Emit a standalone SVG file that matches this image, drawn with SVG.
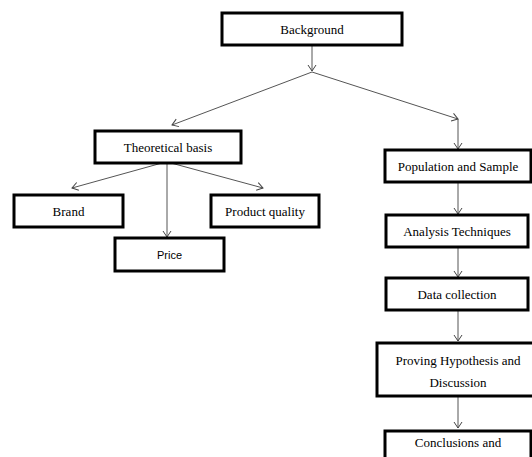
<svg xmlns="http://www.w3.org/2000/svg" width="532" height="457" viewBox="0 0 532 457">
<style>
.box{fill:#fff;stroke:#000;stroke-width:3}
.t{font-family:"Liberation Serif","Times New Roman",serif;font-size:13px;fill:#000;text-anchor:middle;dominant-baseline:central}
.s{font-family:"Liberation Sans",Arial,sans-serif;font-size:11px;fill:#000;text-anchor:middle;dominant-baseline:central}
.c{stroke:#555;stroke-width:1;fill:none}
</style>
<defs>
<marker id="a" markerUnits="userSpaceOnUse" markerWidth="12" markerHeight="12" viewBox="-8 -6 10 12" refX="0" refY="0" orient="auto">
<path d="M-6,-4 L0,0 L-6,4" fill="none" stroke="#444" stroke-width="1"/>
</marker>
</defs>
<rect width="532" height="457" fill="#fff"/>
<g id="connectors" class="c">
<line x1="312" y1="45" x2="312" y2="71" marker-end="url(#a)"/>
<line x1="312" y1="72" x2="172" y2="125" marker-end="url(#a)"/>
<line x1="312" y1="72" x2="458" y2="119" marker-end="url(#a)"/>
<line x1="458" y1="119" x2="458" y2="149" marker-end="url(#a)"/>
<line x1="162" y1="163" x2="72" y2="188" marker-end="url(#a)"/>
<line x1="167" y1="163" x2="167" y2="237" marker-end="url(#a)"/>
<line x1="171" y1="163" x2="263" y2="188" marker-end="url(#a)"/>
<line x1="458" y1="182" x2="458" y2="214" marker-end="url(#a)"/>
<line x1="458" y1="247" x2="458" y2="277" marker-end="url(#a)"/>
<line x1="458" y1="310" x2="458" y2="341" marker-end="url(#a)"/>
<line x1="458" y1="396" x2="458" y2="428" marker-end="url(#a)"/>
</g>
<g id="background"><rect class="box" x="222" y="13" width="180" height="32"/><text class="t" x="312" y="29">Background</text></g>
<g id="theoretical"><rect class="box" x="95" y="131" width="146" height="32"/><text class="t" x="168" y="147">Theoretical basis</text></g>
<g id="brand"><rect class="box" x="14" y="195" width="109" height="32"/><text class="t" x="68.5" y="211">Brand</text></g>
<g id="quality"><rect class="box" x="211" y="195" width="108" height="32"/><text class="t" x="265" y="211">Product quality</text></g>
<g id="price"><rect class="box" x="115" y="238" width="109" height="33"/><text class="s" x="169.5" y="254.5">Price</text></g>
<g id="population"><rect class="box" x="385" y="150" width="146" height="32"/><text class="t" x="458" y="166">Population and Sample</text></g>
<g id="analysis"><rect class="box" x="386" y="215" width="142" height="32"/><text class="t" x="457" y="231">Analysis Techniques</text></g>
<g id="data"><rect class="box" x="386" y="278" width="142" height="32"/><text class="t" x="457" y="294">Data collection</text></g>
<g id="proving"><rect class="box" x="377" y="343" width="165" height="53"/><text class="t" x="458" y="360">Proving Hypothesis and</text><text class="t" x="458" y="382">Discussion</text></g>
<g id="conclusions"><rect class="box" x="385" y="431" width="146" height="40"/><text class="t" x="458" y="442">Conclusions and</text></g>
</svg>
